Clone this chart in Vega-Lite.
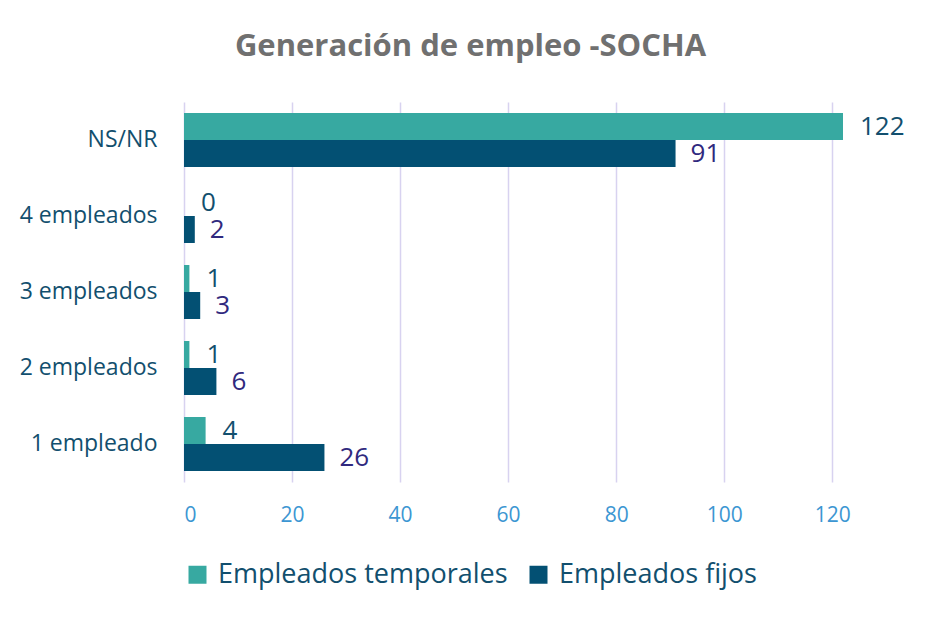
{
  "$schema": "https://vega.github.io/schema/vega-lite/v6.json",
  "width": 659,
  "height": 380,
  "autosize": {"type": "none"},
  "padding": {"left": 184, "top": 102, "right": 92, "bottom": 137},
  "background": "white",
  "title": {
    "text": "Generación de empleo -SOCHA",
    "font": "Open Sans",
    "fontSize": 31,
    "fontWeight": "bold",
    "color": "#707070",
    "anchor": "middle",
    "dx": -43,
    "offset": 39
  },
  "data": {
    "values": [
      {"cat": "NS/NR", "serie": "Empleados temporales", "v": 122},
      {"cat": "NS/NR", "serie": "Empleados fijos", "v": 91},
      {"cat": "4 empleados", "serie": "Empleados temporales", "v": 0},
      {"cat": "4 empleados", "serie": "Empleados fijos", "v": 2},
      {"cat": "3 empleados", "serie": "Empleados temporales", "v": 1},
      {"cat": "3 empleados", "serie": "Empleados fijos", "v": 3},
      {"cat": "2 empleados", "serie": "Empleados temporales", "v": 1},
      {"cat": "2 empleados", "serie": "Empleados fijos", "v": 6},
      {"cat": "1 empleado", "serie": "Empleados temporales", "v": 4},
      {"cat": "1 empleado", "serie": "Empleados fijos", "v": 26}
    ]
  },
  "encoding": {
    "y": {
      "field": "cat",
      "type": "nominal",
      "sort": ["NS/NR", "4 empleados", "3 empleados", "2 empleados", "1 empleado"],
      "scale": {"paddingInner": 0.29, "paddingOuter": 0.145},
      "axis": {
        "title": null,
        "ticks": false,
        "domain": false,
        "labelFont": "Open Sans",
        "labelFontSize": 23,
        "labelColor": "#124F6E",
        "labelPadding": 27,
        "labelLimit": 0
      }
    },
    "yOffset": {
      "field": "serie",
      "type": "nominal",
      "sort": ["Empleados temporales", "Empleados fijos"],
      "scale": {"paddingInner": 0, "paddingOuter": 0}
    },
    "x": {
      "field": "v",
      "type": "quantitative",
      "scale": {"domain": [0, 122], "nice": false},
      "axis": {
        "title": null,
        "values": [0, 20, 40, 60, 80, 100, 120],
        "ticks": false,
        "domain": false,
        "grid": true,
        "gridColor": "#D8D2F0",
        "gridWidth": 1.5,
        "labelFont": "Open Sans",
        "labelFontSize": 21,
        "labelColor": "#3C96D2",
        "labelPadding": 22
      }
    }
  },
  "layer": [
    {
      "mark": {"type": "bar"},
      "encoding": {
        "color": {
          "field": "serie",
          "type": "nominal",
          "sort": ["Empleados temporales", "Empleados fijos"],
          "scale": {"domain": ["Empleados temporales", "Empleados fijos"], "range": ["#37A9A1", "#035073"]},
          "legend": {
            "title": null,
            "orient": "none",
            "direction": "horizontal",
            "legendX": 0,
            "legendY": 459,
            "symbolType": "square",
            "symbolSize": 324,
            "symbolStrokeWidth": 0,
            "labelFont": "Open Sans",
            "labelFontSize": 27,
            "labelColor": "#124F6E",
            "labelOffset": 7,
            "labelLimit": 0,
            "columnPadding": 17
          }
        }
      }
    },
    {
      "transform": [{"filter": "datum.serie == 'Empleados temporales'"}],
      "mark": {"type": "text", "align": "left", "baseline": "middle", "dx": 17, "dy": 0, "font": "Open Sans", "fontSize": 26, "color": "#124F6E"},
      "encoding": {"text": {"field": "v", "type": "quantitative"}}
    },
    {
      "transform": [{"filter": "datum.serie == 'Empleados fijos'"}],
      "mark": {"type": "text", "align": "left", "baseline": "middle", "dx": 15, "dy": 1, "font": "Open Sans", "fontSize": 26, "color": "#30297E"},
      "encoding": {"text": {"field": "v", "type": "quantitative"}}
    }
  ],
  "config": {
    "view": {"stroke": null}
  }
}
